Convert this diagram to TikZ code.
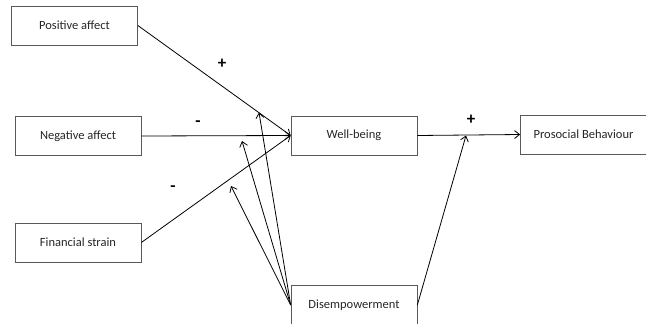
\documentclass[tikz,border=0pt]{standalone}
\usepackage{fontspec}
\setmainfont{Carlito}
\usetikzlibrary{arrows.meta}
\begin{document}
\begin{tikzpicture}[x=1pt,y=-1pt,
  box/.style={draw=black!65,line width=0.7pt,minimum width=126pt,minimum height=39pt,inner sep=0pt,font=\fontsize{12.5}{14}\selectfont,text=black!85},
  conn/.style={line width=0.8pt,-{Straight Barb[length=5pt,width=8pt]}},
  sign/.style={font=\fontsize{17}{17}\selectfont\bfseries,inner sep=0pt}]
\useasboundingbox (0,0) rectangle (646,324);
\node[box] (PA) at (74.5,25.5) {Positive affect};
\node[box] (NA) at (78,136) {Negative affect};
\node[box] (FS) at (78,242.5) {Financial strain};
\node[box] (WB) at (354,135.5) {Well-being};
\node[box] (PB) at (583.5,134.5) {Prosocial Behaviour};
\node[box] (DE) at (354,305) {Disempowerment};
\coordinate (t1) at (259,112.5);
\coordinate (t2) at (242,141);
\coordinate (t3) at (231,186);
\coordinate (t4) at (466,135.5);
\draw[conn] (PA.east) -- (WB.west);
\draw[conn] (NA.east) -- (WB.west);
\draw[conn] (FS.east) -- (WB.west);
\draw[conn] (WB.east) -- (PB.west);
\draw[conn] (DE.west) -- (t1);
\draw[conn] (DE.west) -- (t2);
\draw[conn] (DE.west) -- (t3);
\draw[conn] (DE.east) -- (t4);
\node[sign] (s1) at (222,64) {+};
\node[sign] (s2) at (198,124) {-};
\node[sign] (s3) at (173,189) {-};
\node[sign] (s4) at (471,120) {+};
\end{tikzpicture}
\end{document}
